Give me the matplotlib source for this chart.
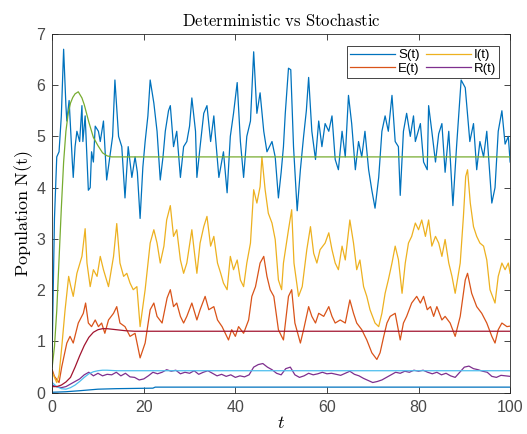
import numpy as np
import matplotlib
matplotlib.use("Agg")
import matplotlib.pyplot as plt

plt.rcParams['mathtext.fontset'] = 'cm'
plt.rcParams['font.family'] = ['Liberation Sans', 'DejaVu Sans']

# stochastic S(t)
s_t = [0, 0.5, 1, 1.5, 2, 2.5, 3, 3.2, 3.7, 4.4, 4.6, 5.0, 5.4, 6.0, 6.5, 6.7,
       7.2, 7.9, 8.3, 8.6, 9.0, 9.4, 10.1, 10.5, 11.2, 11.9, 12.6, 13.2, 13.7,
       14.5, 15.2, 15.9, 16.6, 17.4, 18.1, 18.6, 19.2, 19.8, 20.3, 20.9, 21.4,
       22.2, 22.9, 23.6, 24.2, 24.7, 25.4, 25.8, 26.5, 27.2, 28.0, 28.7, 29.4,
       30.0, 30.5, 31.3, 31.6, 32.3, 33.1, 33.8, 34.6, 35.3, 35.6, 36.4, 37.4,
       38.2, 38.9, 39.6, 40.4, 41.1, 41.8, 42.5, 43.3, 44.0, 44.7, 45.4, 46.2,
       46.9, 48.0, 48.7, 49.4, 50.0, 50.5, 50.9, 51.6, 52.1, 52.7, 53.5, 54.2,
       54.9, 55.5, 56.0, 56.7, 57.5, 58.2, 58.9, 59.6, 60.4, 61.1, 61.8, 62.5,
       63.3, 64.0, 64.7, 65.4, 66.2, 66.9, 67.6, 68.3, 69.1, 69.8, 70.5, 71.3,
       72.0, 72.7, 73.4, 74.2, 74.9, 75.6, 76.0, 76.7, 77.4, 78.2, 78.9, 79.3,
       80.4, 81.1, 81.9, 82.2, 82.9, 83.7, 84.4, 85.1, 85.8, 86.6, 87.5, 88.3,
       89.3, 90.2, 91.2, 92.0, 92.7, 93.4, 94.2, 94.9, 96.0, 96.7, 97.4, 98.2,
       98.9, 99.6, 100]
s_v = [0.8, 3.4, 4.6, 4.7, 5.4, 6.7, 5.6, 5.3, 5.7, 4.5, 4.2, 4.8, 5.1, 4.9, 5.6, 4.9,
       5.4, 3.95, 4.0, 4.7, 4.5, 5.2, 5.1, 4.9, 5.3, 4.15, 4.6, 5.0, 6.1,
       5.0, 4.8, 3.8, 4.8, 4.2, 4.6, 4.3, 3.4, 4.4, 4.9, 5.4, 6.1,
       5.65, 5.1, 4.15, 4.6, 5.1, 5.5, 5.6, 4.8, 5.1, 4.2, 4.8, 4.9,
       5.2, 5.75, 5.1, 4.2, 4.8, 5.45, 5.6, 4.9, 5.4, 5.05, 4.2, 4.7,
       3.9, 5.0, 5.45, 6.05, 4.9, 4.2, 5.0, 5.3, 6.65, 5.45, 5.85, 5.1,
       4.7, 4.9, 4.6, 3.8, 4.3, 4.8, 5.45, 6.33, 6.3, 4.8, 3.55, 4.35,
       5.0, 5.5, 6.15, 5.1, 4.55, 5.3, 4.8, 5.25, 5.1, 5.4, 4.55, 4.35,
       5.1, 4.6, 5.8, 5.25, 4.35, 4.9, 4.6, 5.1, 4.35, 3.95, 3.6, 4.2,
       5.1, 5.4, 5.1, 5.8, 4.9, 4.8, 3.85, 5.1, 5.45, 5.0, 5.4, 4.9,
       5.25, 4.5, 4.35, 5.6, 5.1, 4.5, 5.05, 5.25, 4.3, 5.1, 3.65, 4.8,
       6.1, 5.95, 4.9, 5.25, 4.35, 4.9, 4.6, 5.1, 3.7, 4.0, 5.1, 5.5,
       4.85, 5.0, 4.5]

# stochastic I(t)
i_t = [0, 1, 1.5, 2.1, 2.8, 3.6, 4.0, 4.6, 5.4, 6.5, 7.2, 7.6, 8.3, 9.0, 9.8,
       10.5, 11.2, 12.3, 13.4, 14.1, 14.8, 15.6, 16.3, 17.0, 17.7, 18.5, 19.2,
       20.3, 21.4, 22.2, 22.9, 23.6, 24.4, 25.0, 25.8, 26.5, 27.2, 28.0, 28.7,
       29.4, 30.5, 30.9, 31.6, 32.3, 33.1, 33.8, 34.6, 35.3, 36.1, 36.8, 37.4,
       38.2, 38.9, 39.6, 40.4, 41.1, 41.8, 42.5, 43.3, 44.0, 44.7, 45.4, 45.8,
       46.5, 47.2, 48.0, 48.7, 49.4, 50.1, 50.5, 51.6, 52.3, 52.8, 53.8, 54.6,
       55.6, 56.4, 57.1, 57.8, 58.5, 59.6, 60.4, 61.1, 61.8, 62.5, 63.3, 64.0,
       65.0, 65.8, 66.5, 67.2, 68.0, 68.7, 69.4, 70.5, 71.3, 72.0, 72.7, 73.4,
       74.2, 74.9, 75.6, 76.4, 77.1, 77.8, 78.5, 79.3, 80.0, 80.7, 81.5, 82.2,
       82.9, 83.7, 84.4, 85.1, 85.8, 86.6, 87.3, 88.0, 89.1, 89.8, 90.3, 90.7,
       91.3, 92.0, 92.7, 93.4, 94.2, 94.9, 95.6, 96.7, 97.4, 98.2, 98.9, 99.6,
       100]
i_v = [0.4, 0.2, 0.35, 0.9, 1.6, 2.27, 2.1, 1.88, 2.33, 2.66, 3.2, 2.53, 2.07, 2.4, 2.27,
       2.66, 2.4, 2.07, 2.66, 3.3, 2.53, 2.27, 2.33, 2.14, 2.01, 2.07, 1.29,
       2.01, 2.92, 3.18, 2.92, 2.53, 2.86, 3.37, 3.65, 3.05, 3.18, 2.59, 2.33,
       2.53, 3.18, 2.86, 2.33, 2.92, 3.24, 3.44, 2.86, 3.05, 2.53, 2.33, 2.14,
       2.01, 2.66, 2.4, 2.59, 2.2, 2.07, 2.53, 2.92, 3.96, 3.7, 4.02, 4.6,
       3.96, 3.5, 3.31, 2.99, 2.2, 2.01, 2.53, 3.18, 3.57, 2.53, 1.88, 2.07,
       2.79, 3.24, 2.72, 2.53, 2.79, 2.92, 3.12, 2.79, 2.53, 2.4, 2.86, 2.59,
       3.37, 2.92, 2.4, 2.59, 2.07, 1.88, 1.62, 1.36, 1.29, 1.55, 1.94, 2.2,
       2.53, 2.86, 2.6, 1.94, 2.53, 2.92, 3.05, 3.31, 3.18, 3.37, 3.05, 3.37,
       2.86, 3.05, 2.92, 2.66, 2.99, 2.53, 2.27, 1.94, 2.53, 3.44, 4.22, 4.35,
       3.7, 3.24, 3.05, 2.92, 2.86, 2.59, 2.01, 1.75, 2.27, 2.53, 2.4, 2.53,
       2.33]

# stochastic E(t)
e_t = [0, 0.5, 1.5, 2.1, 3.2, 3.9, 4.6, 5.7, 6.8, 7.3, 7.9, 8.6, 9.4, 10.1,
       10.8, 11.5, 12.3, 13.4, 14.1, 14.8, 15.9, 17.0, 18.1, 19.2, 20.3, 21.4,
       22.2, 22.9, 24.0, 25.1, 25.8, 26.5, 27.2, 28.0, 28.7, 29.4, 30.5, 31.6,
       32.3, 33.4, 34.2, 35.3, 36.1, 37.1, 37.8, 38.5, 39.2, 40.0, 40.7, 41.8,
       42.9, 43.6, 44.4, 45.4, 46.2, 46.9, 47.6, 48.4, 49.4, 50.1, 50.5, 51.6,
       52.3, 53.0, 54.2, 54.9, 56.0, 56.7, 57.5, 58.2, 59.3, 60.4, 61.1, 61.8,
       62.9, 64.0, 65.0, 65.8, 66.5, 67.6, 68.7, 69.8, 70.9, 71.6, 72.4, 73.1,
       73.8, 74.9, 76.0, 76.7, 77.4, 78.5, 79.6, 80.4, 81.1, 81.9, 82.6, 83.3,
       84.0, 85.1, 85.8, 86.9, 88.0, 89.1, 90.2, 90.7, 91.6, 92.7, 93.8, 94.9,
       96.0, 96.7, 97.4, 98.2, 99.3, 100]
e_v = [0.45, 0.32, 0.2, 0.51, 0.97, 1.1, 0.97, 1.36, 1.55, 1.75, 1.36, 1.29, 1.42, 1.29,
       1.36, 1.16, 1.42, 1.55, 1.68, 1.36, 1.29, 1.1, 1.16, 0.68, 0.97, 1.62,
       1.75, 1.49, 1.36, 1.85, 2.01, 1.68, 1.75, 1.49, 1.36, 1.49, 1.75, 1.42,
       1.62, 1.88, 1.62, 1.68, 1.42, 1.29, 1.16, 1.03, 1.23, 1.1, 1.29, 1.16,
       1.42, 1.88, 2.07, 2.53, 2.66, 2.27, 2.01, 1.88, 1.23, 1.1, 1.03, 1.88,
       2.01, 1.36, 0.97, 1.23, 1.68, 1.49, 1.36, 1.55, 1.49, 1.68, 1.49, 1.36,
       1.42, 1.36, 1.81, 1.55, 1.36, 1.23, 1.03, 0.78, 0.65, 0.78, 1.1, 1.36,
       1.49, 1.55, 1.03, 1.36, 1.49, 1.75, 1.88, 1.75, 1.88, 1.62, 1.68, 1.49,
       1.68, 1.42, 1.49, 1.36, 1.1, 1.49, 2.2, 2.33, 1.94, 1.68, 1.55, 1.36,
       1.1, 0.97, 1.23, 1.36, 1.29, 1.3]

# stochastic R(t), one value per time unit
r_t = np.arange(0, 101)
r_v = [0.15, 0.12, 0.1, 0.12, 0.17, 0.22, 0.27, 0.35, 0.4, 0.33, 0.38,
       0.33, 0.36, 0.35, 0.4, 0.33, 0.38, 0.31, 0.3, 0.25, 0.27,
       0.33, 0.4, 0.37, 0.4, 0.45, 0.42, 0.44, 0.37, 0.4, 0.38,
       0.43, 0.36, 0.4, 0.43, 0.38, 0.33, 0.36, 0.32, 0.35, 0.3,
       0.33, 0.31, 0.35, 0.5, 0.55, 0.57, 0.5, 0.45, 0.38, 0.35,
       0.47, 0.5, 0.35, 0.3, 0.33, 0.38, 0.35, 0.37, 0.4, 0.37,
       0.38, 0.36, 0.34, 0.38, 0.42, 0.36, 0.33, 0.28, 0.24, 0.2,
       0.22, 0.25, 0.3, 0.35, 0.4, 0.38, 0.42, 0.4, 0.44, 0.42,
       0.44, 0.4, 0.37, 0.4, 0.35, 0.38, 0.33, 0.3, 0.4, 0.5,
       0.52, 0.47, 0.45, 0.42, 0.4, 0.32, 0.3, 0.34, 0.33, 0.32]

# deterministic solutions
det_s_t = [0, 0.5, 1, 1.5, 2, 2.5, 3, 3.5, 4, 4.5, 5, 5.7, 6.5, 7, 7.5, 8, 9,
           10, 11, 12, 13, 100]
det_s_v = [0.5, 0.9, 1.6, 2.6, 3.6, 4.5, 5.1, 5.45, 5.65, 5.76, 5.83, 5.87, 5.75,
           5.62, 5.45, 5.28, 4.98, 4.82, 4.68, 4.62, 4.6, 4.6]
det_e_t = [0, 1, 2, 3, 4, 5, 6, 7, 8, 9, 10, 11, 12, 14, 16, 18, 100]
det_e_v = [0.12, 0.12, 0.15, 0.21, 0.3, 0.5, 0.72, 0.92, 1.08, 1.18, 1.23, 1.25,
           1.25, 1.23, 1.21, 1.2, 1.2]
det_r_t = [0, 1, 2, 3, 4, 5, 6, 7, 8, 9, 10, 11, 12, 14, 100]
det_r_v = [0.2, 0.12, 0.08, 0.07, 0.1, 0.15, 0.22, 0.3, 0.37, 0.41, 0.43, 0.44,
           0.44, 0.43, 0.43]
det_x_t = [0, 3, 6, 10, 14, 18, 22, 22.5, 100]
det_x_v = [0.01, 0.02, 0.04, 0.07, 0.08, 0.085, 0.09, 0.11, 0.11]

fig = plt.figure(figsize=(5.27, 4.34), dpi=100)
ax = fig.add_axes([0.099, 0.095, 0.869, 0.827])

lw = 0.9
hS, = ax.plot(s_t, s_v, color='#0072BD', lw=lw, label='S(t)')
hE, = ax.plot(e_t, e_v, color='#D95319', lw=lw, label='E(t)')
hI, = ax.plot(i_t, i_v, color='#EDB120', lw=lw, label='I(t)')
hR, = ax.plot(r_t, r_v, color='#7E2F8E', lw=lw, label='R(t)')
ax.plot(det_s_t, det_s_v, color='#77AC30', lw=lw)
ax.plot(det_r_t, det_r_v, color='#4DBEEE', lw=lw)
ax.plot(det_e_t, det_e_v, color='#A2142F', lw=lw)
ax.plot(det_x_t, det_x_v, color='#0072BD', lw=lw)

ax.set_xlim(0, 100)
ax.set_ylim(0, 7)
ax.set_xticks(np.arange(0, 101, 20))
ax.set_yticks(np.arange(0, 8, 1))
ax.tick_params(direction='in', top=True, right=True, length=4, width=0.6,
               labelsize=11.5, colors='#262626', labelcolor='#4a4a4a', pad=5)
for sp in ax.spines.values():
    sp.set_color('#262626')
    sp.set_linewidth(0.6)

ax.set_title(r'$\mathrm{Deterministic\ vs\ Stochastic}$', fontsize=12, pad=6)
ax.set_ylabel(r'$\mathrm{Population\ N(t)}$', fontsize=13, labelpad=1)
ax.set_xlabel(r'$t$', fontsize=13, labelpad=0)

leg = ax.legend([hS, hE, hI, hR], ['S(t)', 'E(t)', 'I(t)', 'R(t)'], ncol=2,
                loc='upper right', bbox_to_anchor=(0.976, 0.967),
                borderaxespad=0, fontsize=9.5, handlelength=3.4,
                handletextpad=0.2, columnspacing=0.5, labelspacing=0.1,
                borderpad=0.25, fancybox=False, framealpha=1)
leg.get_frame().set_edgecolor('#262626')
leg.get_frame().set_linewidth(0.6)

fig.savefig('out.png', dpi=100)
